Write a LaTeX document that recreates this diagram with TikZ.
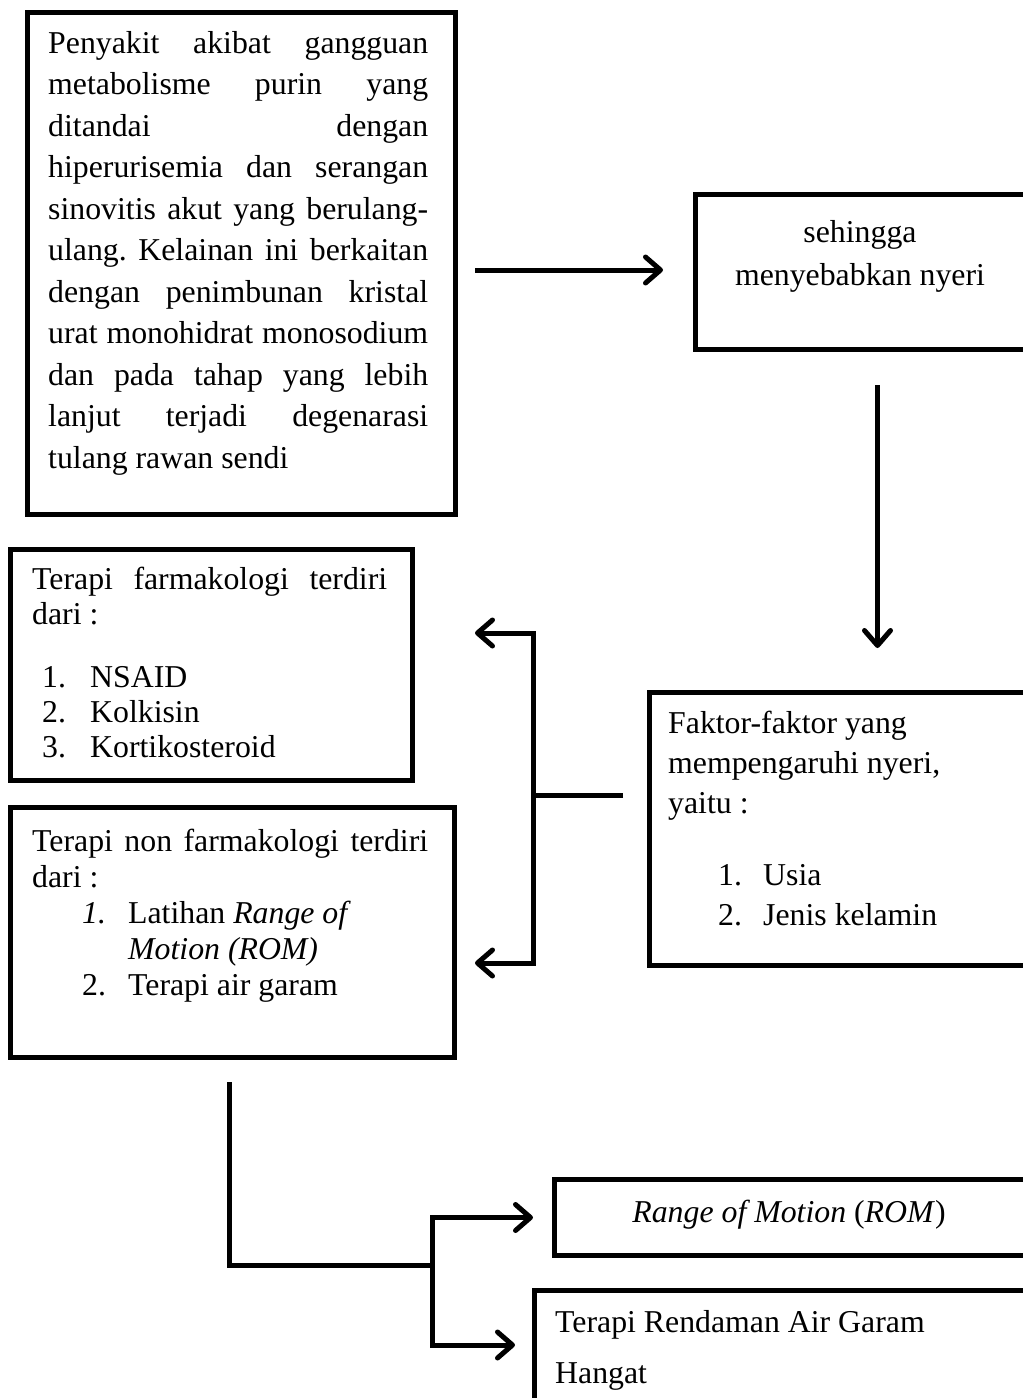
\documentclass[tikz,border=0pt]{standalone}
\usepackage{fontspec}
\setmainfont{Liberation Serif}
\usetikzlibrary{arrows.meta}
\frenchspacing
\begin{document}
\begin{tikzpicture}[x=1pt,y=-1pt,
  box/.style={draw, line width=5pt, inner sep=0pt, anchor=north west},
  conn/.style={line width=5pt},
  arr/.style={conn, -{Straight Barb[length=15pt,width=26pt,round]}},
  txt/.style={inner sep=0pt, anchor=base west, align=left},
  fs/.style={font=\fontsize{31.8}{#1}\selectfont},
]
\useasboundingbox (0,0) rectangle (1023,1398);
\clip (0,0) rectangle (1023,1398);

% boxes
\node[box, minimum width=428pt, minimum height=502pt] (A) at (25,10) {};
\node[box, minimum width=335pt, minimum height=155pt] (B) at (693,192) {};
\node[box, minimum width=413pt, minimum height=273pt] (C) at (647,690) {};
\node[box, minimum width=402pt, minimum height=231pt] (D) at (8,547) {};
\node[box, minimum width=444pt, minimum height=250pt] (E) at (8,805) {};
\node[box, minimum width=474pt, minimum height=76pt] (F) at (552,1177) {};
\node[box, minimum width=528pt, minimum height=140pt] (G) at (532,1288) {};

% texts (anchor = baseline of the last line)
\node[txt, fs=41.5] (tA) at (48,468) {%
\makebox[380pt][s]{Penyakit akibat gangguan}\\
\makebox[380pt][s]{metabolisme purin yang}\\
\makebox[380pt][s]{ditandai dengan}\\
\makebox[380pt][s]{hiperurisemia dan serangan}\\
\makebox[380pt][s]{sinovitis akut yang berulang-}\\
\makebox[380pt][s]{ulang. Kelainan ini berkaitan}\\
\makebox[380pt][s]{dengan penimbunan kristal}\\
\makebox[380pt][s]{urat monohidrat monosodium}\\
\makebox[380pt][s]{dan pada tahap yang lebih}\\
\makebox[380pt][s]{lanjut terjadi degenarasi}\\
tulang rawan sendi};

\node[inner sep=0pt, anchor=base, align=center, fs=43] (tB) at (860,285)
  {sehingga\\menyebabkan nyeri};

\node[txt, fs=40] (tC) at (668,925) {%
Faktor-faktor yang\\
mempengaruhi nyeri,\\
yaitu :\\[32pt]
\hspace*{50pt}\makebox[45pt][l]{1.}Usia\\
\hspace*{50pt}\makebox[45pt][l]{2.}Jenis kelamin};

\node[txt, fs=35] (tD) at (32,757) {%
\makebox[355pt][s]{Terapi farmakologi terdiri}\\
dari :\\[28pt]
\hspace*{10pt}\makebox[48pt][l]{1.}NSAID\\
\hspace*{10pt}\makebox[48pt][l]{2.}Kolkisin\\
\hspace*{10pt}\makebox[48pt][l]{3.}Kortikosteroid};

\node[txt, fs=36] (tE) at (32,995) {%
\makebox[396pt][s]{Terapi non farmakologi terdiri}\\
dari :\\
\hspace*{50pt}\makebox[46pt][l]{\textit{1.}}Latihan \textit{Range of}\\
\hspace*{96pt}\textit{Motion (ROM)}\\
\hspace*{50pt}\makebox[46pt][l]{2.}Terapi air garam};

\node[inner sep=0pt, anchor=base, fs=38] (tF) at (789,1222)
  {\textit{Range of Motion} (\textit{ROM})};

\node[txt, fs=51] (tG) at (555,1383) {Terapi Rendaman Air Garam\\Hangat};

% connectors
\draw[arr] ([xshift=17pt]A.east |- 0,270) -- ([xshift=-30pt]B.west |- 0,270);
\draw[arr] ([xshift=14.5pt,yshift=-33pt]B.south) -- ([xshift=21.5pt,yshift=42pt]C.north);

\coordinate (cL) at ([xshift=-24pt]C.west |- 0,795);
\coordinate (jM) at (533,795);
\coordinate (tipD) at ([xshift=60pt]D.east |- 0,633);
\coordinate (tipE) at ([xshift=18pt]E.east |- 0,963);
\draw[conn] (cL) -- (jM);
\draw[arr] (jM) |- (tipD);
\draw[arr] (jM) |- (tipE);

\coordinate (e1) at (229,1082);
\coordinate (k) at (432,1265);
\coordinate (tipF) at ([xshift=-19pt]F.west);
\coordinate (tipG) at ([xshift=-17pt]G.west |- 0,1345);
\draw[conn] (e1) |- (k);
\draw[arr] (k) |- (tipF);
\draw[arr] (k) |- (tipG);
\end{tikzpicture}
\end{document}
